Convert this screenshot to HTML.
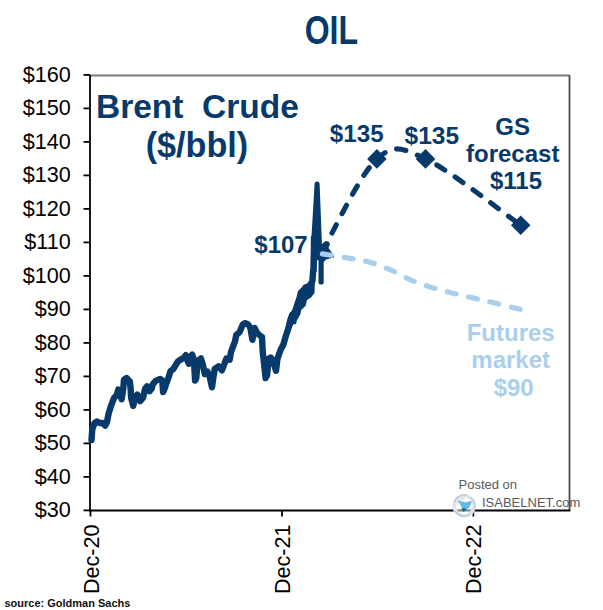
<!DOCTYPE html>
<html><head><meta charset="utf-8"><style>
html,body{margin:0;padding:0;background:#fff;width:603px;height:610px;overflow:hidden}
svg{display:block}
text{font-family:"Liberation Sans",sans-serif;white-space:pre}
</style></head><body>
<svg width="603" height="610" viewBox="0 0 603 610" xml:space="preserve">
<rect width="603" height="610" fill="#fff"/>
<text font-size="40" font-weight="bold" fill="#073a6b" text-anchor="middle" transform="translate(331.3 43.6) scale(0.8 1)">OIL</text>
<line x1="90" y1="75.5" x2="569.5" y2="75.5" stroke="#7a7a7a" stroke-width="2.2"/>
<line x1="569.5" y1="75" x2="569.5" y2="511" stroke="#4a4a4a" stroke-width="1.8"/>
<g stroke="#000" stroke-width="1.8"><line x1="83.5" y1="510.4" x2="90" y2="510.4"/><line x1="83.5" y1="476.9" x2="90" y2="476.9"/><line x1="83.5" y1="443.4" x2="90" y2="443.4"/><line x1="83.5" y1="409.9" x2="90" y2="409.9"/><line x1="83.5" y1="376.4" x2="90" y2="376.4"/><line x1="83.5" y1="342.9" x2="90" y2="342.9"/><line x1="83.5" y1="309.4" x2="90" y2="309.4"/><line x1="83.5" y1="275.9" x2="90" y2="275.9"/><line x1="83.5" y1="242.4" x2="90" y2="242.4"/><line x1="83.5" y1="208.9" x2="90" y2="208.9"/><line x1="83.5" y1="175.4" x2="90" y2="175.4"/><line x1="83.5" y1="141.9" x2="90" y2="141.9"/><line x1="83.5" y1="108.4" x2="90" y2="108.4"/><line x1="83.5" y1="74.9" x2="90" y2="74.9"/>
<line x1="90" y1="75" x2="90" y2="511"/>
<line x1="89" y1="510.5" x2="570.3" y2="510.5"/>
<line x1="90.5" y1="510" x2="90.5" y2="516.5"/>
<line x1="282" y1="510" x2="282" y2="516.5"/>
<line x1="473.3" y1="510" x2="473.3" y2="516.5"/>
</g>
<g font-size="22.3" fill="#000" text-anchor="end"><text transform="translate(70.8 517.4) scale(0.97 1)">$30</text><text transform="translate(70.8 483.9) scale(0.97 1)">$40</text><text transform="translate(70.8 450.4) scale(0.97 1)">$50</text><text transform="translate(70.8 416.9) scale(0.97 1)">$60</text><text transform="translate(70.8 383.4) scale(0.97 1)">$70</text><text transform="translate(70.8 349.9) scale(0.97 1)">$80</text><text transform="translate(70.8 316.4) scale(0.97 1)">$90</text><text transform="translate(70.8 282.9) scale(0.97 1)">$100</text><text transform="translate(70.8 249.4) scale(0.97 1)">$110</text><text transform="translate(70.8 215.9) scale(0.97 1)">$120</text><text transform="translate(70.8 182.4) scale(0.97 1)">$130</text><text transform="translate(70.8 148.9) scale(0.97 1)">$140</text><text transform="translate(70.8 115.4) scale(0.97 1)">$150</text><text transform="translate(70.8 81.9) scale(0.97 1)">$160</text></g>
<g font-size="22" fill="#000">
<text transform="translate(98.9 594) rotate(-90) scale(0.98 1)">Dec-20</text>
<text transform="translate(289.9 594) rotate(-90) scale(0.98 1)">Dec-21</text>
<text transform="translate(481.2 594) rotate(-90) scale(0.98 1)">Dec-22</text>
</g>
<g font-weight="bold" fill="#073a6b">
<text x="96" y="117.8" font-size="33.5">Brent  Crude</text>
<text x="145.7" y="157.3" font-size="34.2">($/bbl)</text>
<text x="254.3" y="253.4" font-size="24">$107</text>
<text x="329.8" y="142.3" font-size="24.2">$135</text>
<text x="404.5" y="143.8" font-size="24.5">$135</text>
<g font-size="24" text-anchor="middle">
<text x="512.7" y="134.8">GS</text>
<text x="512.7" y="162">forecast</text>
<text x="516" y="189">$115</text>
</g>
</g>
<g font-weight="bold" fill="#aacfeb" font-size="24" text-anchor="middle">
<text x="510.7" y="340.8">Futures</text>
<text x="510.7" y="367.7">market</text>
<text x="513.7" y="396">$90</text>
</g>
<path d="M91.5,440.0 L92.3,429.0 L94.6,423.0 L97.0,421.5 L99.5,423.0 L102.8,423.0 L105.2,425.6 L106.9,422.3 L108.5,414.1 L111.0,405.9 L114.2,397.7 L116.7,395.2 L118.3,389.5 L120.0,392.8 L121.6,399.3 L123.2,389.5 L124.0,379.7 L126.6,378.1 L129.9,381.4 L130.7,389.6 L131.1,397.8 L133.2,406.0 L134.8,399.4 L137.3,394.5 L140.2,401.1 L143.0,397.8 L145.1,388.8 L147.1,386.3 L149.6,391.2 L151.6,388.8 L152.9,383.9 L156.1,380.6 L160.2,378.9 L162.3,380.6 L163.1,392.0 L164.3,389.6 L165.8,385.0 L168.7,377.0 L170.4,371.3 L173.3,369.0 L176.1,364.4 L177.9,361.5 L181.3,359.3 L184.2,357.5 L185.9,355.2 L187.6,361.0 L188.8,363.8 L190.5,356.4 L192.2,354.7 L193.9,359.8 L195.1,380.5 L196.3,378.1 L197.6,361.1 L200.9,358.5 L202.9,365.0 L204.8,374.2 L207.4,371.6 L209.4,375.5 L212.0,387.3 L213.3,378.1 L214.7,369.0 L218.6,366.3 L221.9,370.3 L224.5,363.7 L226.4,358.5 L229.7,359.8 L231.0,351.9 L233.0,346.7 L235.0,341.4 L236.3,334.9 L239.5,332.3 L242.8,324.4 L244.8,323.1 L248.1,324.4 L250.4,328.0 L252.4,339.8 L254.6,328.0 L256.8,332.4 L259.7,335.4 L262.0,336.9 L262.7,351.6 L264.2,364.9 L265.6,378.1 L267.1,375.2 L268.6,359.0 L270.8,357.5 L273.7,363.4 L276.0,370.8 L277.4,359.0 L280.5,350.0 L283.5,344.2 L286.0,335.4 L289.0,326.5 L290.8,320.6 L292.8,314.7 L295.1,317.0 L297.3,313.3 L299.7,300.8 L302.7,293.4 L305.6,287.5 L309.3,286.0 L312.3,281.6 L313.5,266.9 L314.0,247.0 L314.0,238.0" fill="none" stroke="#073a6b" stroke-width="6.4" stroke-linejoin="round" stroke-linecap="round"/>
<path d="M311.3,240 L314.6,183.5 A2.6,2.6 0 0 1 319.6,183.5 L321.8,240 L321.8,244 L325,241.5 L328.5,241.5 L330,244 L328.5,248 L333,254 L334,257.5 L326,259.5 L323.7,262 L323.7,282 A2.6,2.6 0 0 1 318.5,282 L318.5,260.5 L316.8,260 L316.5,272 L311.3,272 Z" fill="#073a6b"/>
<path d="M285,331 L287,320 L289.5,313 L292,310.5 L296.5,297 L298,291 L302.5,286.5 L307,284.5 L311,282 L311.2,270 L315,270 L314.8,284 L314.5,293 L311,297.5 L307,300 L305.5,306 L301,310 L299,313 L297.5,318 L296,324 L293,324.5 L290,330 Z" fill="#073a6b"/>
<path d="M322.0,252.0 C331.1,236.5 359.6,174.4 376.9,158.9 C394.1,143.4 401.5,147.9 425.5,158.9 C449.5,169.9 504.8,214.1 520.7,225.2" fill="none" stroke="#073a6b" stroke-width="5.1" stroke-linecap="round" stroke-dasharray="9.6 12.3" stroke-dashoffset="0.5"/>
<path d="M322.4,253.9 C326.7,254.6 340.4,256.7 348.3,258.1 C356.2,259.5 362.6,260.2 369.7,262.2 C376.8,264.2 383.8,267.0 390.6,269.9 C397.4,272.8 403.9,276.9 410.5,279.8 C417.1,282.7 423.6,284.9 430.5,287.1 C437.4,289.3 444.8,291.1 451.9,292.9 C458.9,294.7 465.8,296.2 472.8,297.9 C479.8,299.5 485.5,300.8 493.7,302.8 C501.9,304.8 517.3,308.6 522.0,309.8" fill="none" stroke="#a9cfec" stroke-width="5.2" stroke-linecap="round" stroke-dasharray="9 12.9"/>
<polygon points="376.9,149.1 386.7,158.9 376.9,168.70000000000002 367.09999999999997,158.9" fill="#073a6b"/><polygon points="425.5,149.1 435.3,158.9 425.5,168.70000000000002 415.7,158.9" fill="#073a6b"/><polygon points="520.7,215.39999999999998 530.5,225.2 520.7,235.0 510.90000000000003,225.2" fill="#073a6b"/>
<text x="458.5" y="489" font-size="13" fill="#5a5a5a">Posted on</text>
<text x="482" y="507.2" font-size="13" fill="#5a5a5a">ISABELNET.com</text>
<g transform="translate(464.2 505.7)">
<circle r="12" fill="#fff" fill-opacity="0.5"/>
<circle r="10" fill="none" stroke="#dfe6eb" stroke-width="3.5"/>
<path d="M-10,-3 A10.5,10.5 0 0 1 3,-10.5" fill="none" stroke="#b4c4d0" stroke-width="1.3"/>
<path d="M6,-8.5 A10.5,10.5 0 0 1 9.5,5" fill="none" stroke="#bccbd6" stroke-width="1.3"/>
<path d="M6,8.5 A10.5,10.5 0 0 1 -9,5.5" fill="none" stroke="#aebfcc" stroke-width="1.3"/>
<path d="M-7,-0.5 A7.5,7.5 0 0 1 1,-7.5" fill="none" stroke="#cdd8e0" stroke-width="1.1"/>
<path d="M-6.5,-4.8 C-3.5,-5.2 0,-2.5 3,-3.8 C5,-4.6 7,-4.6 7.5,-4 C7,0 3.5,4.5 -0.8,6.2 C-1.5,3 -3,-0.5 -6.5,-4.8 Z" fill="#5fbbea"/>
<path d="M-3,2.5 L2.5,3 C1.5,4.5 0.5,5.5 -0.8,6.2 C-1.2,5 -2,3.8 -3,2.5 Z" fill="#1f5e92"/>
</g>
<text x="4.5" y="607" font-size="11" font-weight="bold" fill="#111">source: Goldman Sachs</text>
</svg>
</body></html>
